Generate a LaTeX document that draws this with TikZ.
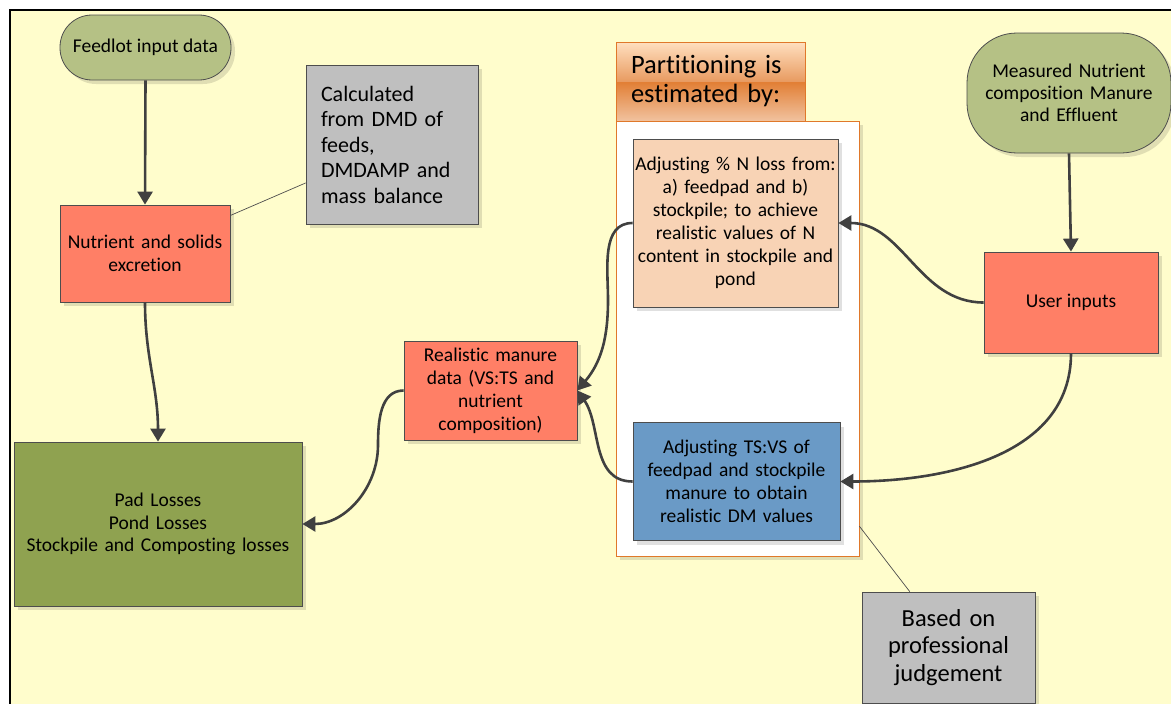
\documentclass[tikz,border=0pt]{standalone}
\usepackage{fontspec}
\setmainfont[Ligatures=NoCommon]{Carlito}
\usetikzlibrary{arrows.meta,shadows,calc}

\definecolor{bgyellow}{HTML}{FFFDCC}
\definecolor{pillgreen}{HTML}{B5C185}
\definecolor{salmon}{HTML}{FF7F66}
\definecolor{padgreen}{HTML}{8FA250}
\definecolor{peach}{HTML}{F8D3B5}
\definecolor{steel}{HTML}{6A9AC6}
\definecolor{notegray}{HTML}{BFBFBF}
\definecolor{orangeline}{HTML}{E0782A}
\definecolor{edgegray}{HTML}{4D4D4D}
\definecolor{conngray}{HTML}{404040}

\tikzset{
  shadowed/.style={drop shadow={shadow xshift=4pt, shadow yshift=-4pt, fill=black, opacity=0.12}},
  box/.style={draw=edgegray, line width=0.8pt, align=center, inner sep=0pt, shadowed,
    font=\fontsize{19.5}{23}\selectfont},
  note/.style={box, fill=notegray},
  conn/.style={draw=conngray, line width=2.6pt, -{Triangle[length=13pt,width=15pt]}},
  noteline/.style={draw=edgegray, line width=0.7pt},
}

\begin{document}
\begin{tikzpicture}[x=1pt,y=-1pt]
\useasboundingbox (0,0) rectangle (1171,704);
\fill[white] (0,0) rectangle (1171,704);
\fill[bgyellow] (10,10) rectangle (1171,704);
\draw[line width=2.2pt] (10,704) -- (10,10) -- (1171,10);

% left column
\node[box, fill=pillgreen, rounded corners=32pt, minimum width=171pt, minimum height=65pt]
  (feed) at (145.5,47.5) {Feedlot input data};
\node[box, fill=salmon, minimum width=170pt, minimum height=97pt, text width=165pt]
  (excr) at (145,253.5) {Nutrient and solids\\excretion};
\node[note, minimum width=172pt, minimum height=159pt, text width=142pt, align=left,
  font=\fontsize{22}{25.5}\selectfont]
  (calc) at (392,144.5) {Calculated\\from DMD of\\feeds,\\DMDAMP and\\mass balance};
\node[box, fill=padgreen, minimum width=288pt, minimum height=164pt, text width=280pt,
  font=\fontsize{19.5}{22.5}\selectfont]
  (pad) at (158,524) {Pad Losses\\Pond Losses\\Stockpile and Composting losses};
\node[box, fill=salmon, minimum width=173pt, minimum height=99pt, text width=170pt]
  (real) at (490.5,390.5) {Realistic manure\\data (VS:TS and\\nutrient\\composition)};

% partitioning panel
\node[draw=orangeline, line width=0.8pt, fill=white, shadowed, minimum width=243pt,
  minimum height=435pt, inner sep=0pt] (part) at (737.5,338.5) {};
\shade[top color=orange!25!white, bottom color=orangeline!75!white] (616,42) rectangle (805,82);
\shade[top color=orangeline!95!white, bottom color=orangeline!45!white] (616,82) rectangle (805,121);
\node[draw=orangeline, line width=0.8pt, minimum width=189pt, minimum height=79pt,
  inner sep=0pt, text width=159pt, align=left, font=\fontsize{26.5}{29}\selectfont]
  (head) at (710.5,81.5) {Partitioning is\\estimated by:};
\node[box, fill=peach, minimum width=205pt, minimum height=168pt, text width=204pt]
  (pn) at (735.5,223) {Adjusting \% N loss from:\\a) feedpad and b)\\stockpile; to achieve\\realistic values of N\\content in stockpile and\\pond};
\node[box, fill=steel, minimum width=207pt, minimum height=118pt, text width=204pt]
  (tsvs) at (736.5,481.5) {Adjusting TS:VS of\\feedpad and stockpile\\manure to obtain\\realistic DM values};

% right column
\node[box, fill=pillgreen, rounded corners=50pt, minimum width=204pt, minimum height=120pt,
  text width=200pt, font=\fontsize{19.5}{22}\selectfont]
  (meas) at (1069,93) {Measured Nutrient\\composition Manure\\and Effluent};
\node[box, fill=salmon, minimum width=174pt, minimum height=101pt]
  (user) at (1071,302.5) {User inputs};
\node[note, minimum width=173pt, minimum height=111pt, text width=170pt,
  font=\fontsize{24.5}{27.5}\selectfont]
  (based) at (948.5,647.5) {Based on\\professional\\judgement};

% annotation leaders
\draw[noteline] (excr.24) -- (calc.204);
\draw[noteline] (part.-57) -- ($(based.north west)!0.277!(based.north east)$);

% connectors
\draw[conn] (feed.south) -- (excr.north);
\draw[conn] (excr.south) to[out=-90,in=90] (pad.north);
\draw[conn] (real.west) to[out=180,in=90] (378,445) to[out=-90,in=0] (pad.east);
\draw[conn] (meas.south) -- (user.north);
\draw[conn] (user.west) to[out=180,in=0] (pn.east);
\draw[conn] (user.south) to[out=-90,in=0] (tsvs.east);
\draw[conn] (pn.west) to[out=180,in=90] (608,300) to[out=-90,in=50] (real.east);
\draw[conn] (tsvs.west) to[out=180,in=-55] (real.east);
\end{tikzpicture}
\end{document}
